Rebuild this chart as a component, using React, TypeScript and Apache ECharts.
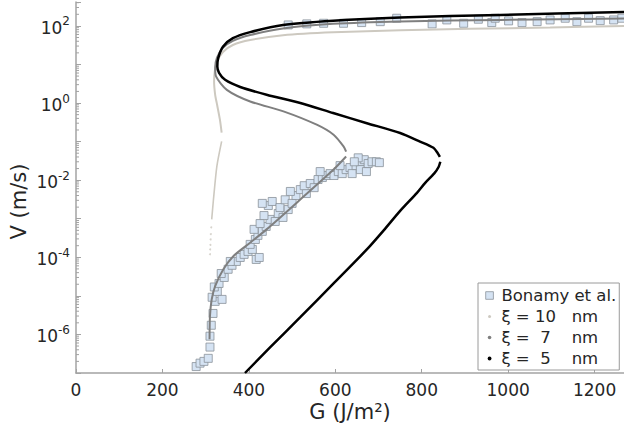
import React, { useEffect, useRef } from 'react';
import * as echarts from 'echarts';

// ---------- axis extents ----------
const X_MIN = 0;
const X_MAX = 1268;
const X_STEP = 200;
const Y_LOG_MIN = -7; // 1e-7 m/s
const Y_LOG_MAX = 2.62; // ~ 4e2 m/s

// ---------- model curves [G (J/m²), V (m/s)] ----------
const xi10Upper: [number, number][] = [
  [1268, 100], [1097, 91], [912, 84], [750, 77], [595, 68], [479, 57], [403, 43],
  [363, 32], [340, 21], [326, 11.7], [321, 6.5], [319.5, 3.6], [322, 1.64],
  [326.5, 0.9], [333, 0.37], [337, 0.17],
];
const xi10Lower: [number, number][] = [
  [337, 0.101], [326, 0.023], [318, 3.1e-3], [314, 9.6e-4],
];
const xi10Tail: [number, number][] = [
  [313, 6e-4], [312, 4e-4], [311.5, 2.9e-4], [311, 2.1e-4], [310.5, 1.6e-4], [310, 1.2e-4],
];

const xi7Upper: [number, number][] = [
  [1268, 156], [982, 143], [750, 131], [595, 113], [479, 86], [403, 58], [363, 41],
  [340, 27], [326, 14.9], [322, 8.2], [324, 4.9], [349, 2.2], [403, 1.1], [480, 0.61],
  [557, 0.275], [596, 0.151], [619, 0.075], [625, 0.055],
];
const xi7Lower: [number, number][] = [
  [625, 0.041], [596, 0.0188], [519, 3.15e-3], [441, 5.3e-4], [403, 2.39e-4],
  [364, 1.07e-4], [341, 4.9e-5], [322, 1.8e-5], [314, 8.1e-6], [310, 3.0e-6], [309, 7.5e-7],
];

const xi5Upper: [number, number][] = [
  [1268, 230], [982, 193], [750, 166], [595, 137], [479, 106], [403, 69], [363, 48],
  [340, 29], [329, 14.6], [327, 8.9], [331, 6.1], [345, 4.0], [380, 2.6], [441, 1.64],
  [519, 1.0], [595, 0.55], [673, 0.3], [750, 0.167], [796, 0.1], [827, 0.069],
  [837, 0.05], [842, 0.04],
];
const xi5Lower: [number, number][] = [
  [843, 0.03], [839, 0.022], [829, 0.015], [808, 0.0085], [789, 0.0047], [750, 1.6e-3],
  [712, 5.0e-4], [673, 1.6e-4], [596, 2.1e-5], [519, 2.8e-6], [449, 4.6e-7], [391, 1.0e-7],
];

// ---------- Bonamy et al. measurements [G, V] ----------
const bonamyFast: [number, number][] = [
  [491, 106], [534, 113], [573, 117], [619, 117], [661, 122], [704, 129], [742, 158],
  [824, 113], [858, 143], [897, 117], [931, 149], [962, 122], [970, 158], [1001, 135],
  [1032, 122], [1067, 129], [1097, 143], [1132, 158], [1159, 129], [1186, 158],
  [1213, 137], [1244, 143], [1263, 158],
];
const bonamySlow: [number, number][] = [
  [278, 1.47e-7], [287, 1.8e-7], [296, 2.0e-7], [306, 2.4e-7], [310, 4.7e-7], [310, 9.0e-7],
  [313, 1.73e-6], [317, 3.5e-6], [322, 7.2e-6], [315, 9.2e-6], [327, 1.3e-5], [320, 1.7e-5],
  [331, 2.1e-5], [338, 8.1e-6], [343, 3.0e-5], [336, 3.8e-5], [352, 4.9e-5], [361, 6.2e-5],
  [371, 7.8e-5], [357, 7.8e-5], [380, 9.9e-5], [389, 1.19e-4], [398, 1.42e-4], [408, 1.6e-4],
  [417, 8.8e-5], [424, 9.9e-5], [403, 2.16e-4], [415, 2.9e-4], [421, 3.7e-4], [431, 4.7e-4],
  [412, 5.3e-4], [440, 6.3e-4], [426, 7.5e-4], [449, 9.6e-4], [461, 8.5e-4], [435, 1.21e-3],
  [468, 1.37e-3], [479, 1.08e-3], [445, 2.2e-3], [431, 2.5e-3], [454, 2.8e-3], [472, 1.95e-3],
  [491, 1.73e-3], [484, 3.1e-3], [500, 2.5e-3], [509, 4.0e-3], [496, 5.1e-3], [519, 5.7e-3],
  [533, 4.5e-3], [528, 7.2e-3], [542, 8.2e-3], [551, 6.4e-3], [560, 0.0104], [570, 0.0117],
  [579, 0.0132], [588, 0.0148], [597, 0.0132], [607, 0.0167], [616, 0.0148], [625, 0.0188],
  [634, 0.0212], [639, 0.0148], [648, 0.0239], [658, 0.03], [667, 0.034], [658, 0.0188],
  [672, 0.0167], [676, 0.027], [685, 0.03], [695, 0.03], [702, 0.0285], [653, 0.038],
  [644, 0.03], [611, 0.0239], [565, 0.0167],
];

// ---------- labels ----------
const NAME_BONAMY = 'Bonamy et al.';
const NAME_XI10 = 'ξ = 10\u00A0\u00A0\u00A0nm';
const NAME_XI7 = 'ξ =\u00A0\u00A07\u00A0\u00A0\u00A0\u00A0nm';
const NAME_XI5 = 'ξ =\u00A0\u00A05\u00A0\u00A0\u00A0\u00A0nm';
const X_NAME = 'G (J/m²)';
const Y_NAME = 'V (m/s)';

// ---------- styles ----------
const FONT = 'DejaVu Sans';
const TEXT = '#262626';
const AXIS = '#a3a3a3';
const C_XI10 = '#cdc9c0';
const C_XI7 = '#7f7f7f';
const C_XI5 = '#000000';
const C_SQ = '#d5e3f3';
const C_SQ_EDGE = '#8a9299';

const toLog = (pts: [number, number][]) => pts.map(([g, v]) => [g, Math.log10(v)]);

const minorTicks: number[][] = [];
for (let n = Y_LOG_MIN; n <= 2; n++) {
  for (let k = 2; k <= 9; k++) {
    const v = n + Math.log10(k);
    if (v <= Y_LOG_MAX) minorTicks.push([0, v]);
  }
}

const box = 'M0,0M12,8';
const dot = (r: number) =>
  `path://${box}M${5.15 - r},4A${r},${r} 0 1 1 ${5.15 + r},4A${r},${r} 0 1 1 ${5.15 - r},4Z`;
const squareIcon = `path://${box}M1.3,0.2L9,0.2L9,7.8L1.3,7.8Z`;

export default function App() {
  const ref = useRef<HTMLDivElement>(null);
  useEffect(() => {
    if (!ref.current) return;
    const chart = echarts.init(ref.current, undefined, { renderer: 'svg' });
    const lineBase = {
      type: 'line' as const,
      showSymbol: false,
      symbol: 'none',
      smooth: 0.25,
      z: 3,
    };
    chart.setOption({
      animation: false,
      textStyle: { fontFamily: FONT },
      grid: { left: 76, right: 0, top: 2, bottom: 62, outerBoundsMode: 'none' },
      graphic: [
        {
          type: 'text',
          x: 18.5,
          y: 201.5,
          rotation: Math.PI / 2,
          silent: true,
          style: {
            text: Y_NAME,
            x: 0,
            y: 0,
            align: 'center',
            verticalAlign: 'middle',
            fontSize: 21,
            fontFamily: FONT,
            fill: TEXT,
          },
        },
      ],
      legend: {
        orient: 'vertical',
        left: 478,
        top: 283,
        padding: [4, 3, 3, 6],
        itemGap: 4,
        itemWidth: 12,
        itemHeight: 8,
        borderColor: '#9a9a9a',
        borderWidth: 1,
        backgroundColor: '#ffffff',
        selectedMode: false,
        textStyle: { fontSize: 16.5, color: TEXT, fontFamily: FONT },
        data: [
          { name: NAME_BONAMY, icon: squareIcon, itemStyle: { color: C_SQ, borderColor: C_SQ_EDGE, borderWidth: 0.8 } },
          { name: NAME_XI10, icon: dot(1.5), itemStyle: { color: C_XI10, borderWidth: 0 } },
          { name: NAME_XI7, icon: dot(1.8), itemStyle: { color: C_XI7, borderWidth: 0 } },
          { name: NAME_XI5, icon: dot(1.9), itemStyle: { color: C_XI5, borderWidth: 0 } },
        ],
      },
      xAxis: {
        type: 'value',
        min: X_MIN,
        max: X_MAX,
        interval: X_STEP,
        name: X_NAME,
        nameLocation: 'middle',
        nameGap: 28,
        nameMoveOverlap: false,
        nameTextStyle: { fontSize: 21, color: TEXT, fontFamily: FONT },
        axisLine: { show: true, onZero: false, lineStyle: { color: AXIS, width: 1.5 } },
        axisTick: { show: true, inside: true, length: 4, lineStyle: { color: AXIS, width: 1 } },
        splitLine: { show: false },
        axisLabel: {
          fontSize: 17,
          color: TEXT,
          margin: 8,
          fontFamily: FONT,
          showMaxLabel: false,
          formatter: (v: number) => (Math.abs(v % X_STEP) < 1e-6 ? String(v) : ''),
        },
      },
      yAxis: {
        type: 'value',
        min: Y_LOG_MIN,
        max: Y_LOG_MAX,
        interval: 1,
        axisLine: { show: true, onZero: false, lineStyle: { color: AXIS, width: 1.5 } },
        axisTick: { show: true, inside: true, length: 5, lineStyle: { color: AXIS, width: 1 } },
        splitLine: { show: false },
        axisLabel: {
          color: TEXT,
          margin: 6,
          fontFamily: FONT,
          formatter: (v: number) => {
            const r = Math.round(v);
            if (Math.abs(v - r) > 1e-6 || r % 2 !== 0) return '';
            return `{b|10}{s|${r}}`;
          },
          rich: {
            b: { fontSize: 17, color: TEXT, fontFamily: FONT, verticalAlign: 'bottom', lineHeight: 18 },
            s: { fontSize: 12, color: TEXT, fontFamily: FONT, verticalAlign: 'bottom', padding: [0, 0, 9, 0] },
          },
        },
      },
      series: [
        {
          name: NAME_BONAMY,
          type: 'scatter',
          symbol: 'rect',
          symbolSize: 8,
          z: 2,
          itemStyle: { color: C_SQ, borderColor: C_SQ_EDGE, borderWidth: 0.8, opacity: 1 },
          data: toLog([...bonamyFast, ...bonamySlow]),
        },
        { ...lineBase, name: NAME_XI10, itemStyle: { color: C_XI10 }, lineStyle: { color: C_XI10, width: 2 }, data: toLog(xi10Upper) },
        { ...lineBase, name: NAME_XI10, itemStyle: { color: C_XI10 }, lineStyle: { color: C_XI10, width: 1.6 }, data: toLog(xi10Lower) },
        {
          name: NAME_XI10,
          type: 'scatter',
          symbol: 'circle',
          symbolSize: 2,
          z: 3,
          itemStyle: { color: C_XI10 },
          data: toLog(xi10Tail),
        },
        { ...lineBase, name: NAME_XI7, itemStyle: { color: C_XI7 }, lineStyle: { color: C_XI7, width: 2 }, data: toLog(xi7Upper) },
        { ...lineBase, name: NAME_XI7, itemStyle: { color: C_XI7 }, lineStyle: { color: C_XI7, width: 2 }, data: toLog(xi7Lower) },
        { ...lineBase, name: NAME_XI5, itemStyle: { color: C_XI5 }, lineStyle: { color: C_XI5, width: 2.5 }, data: toLog(xi5Upper) },
        { ...lineBase, name: NAME_XI5, itemStyle: { color: C_XI5 }, lineStyle: { color: C_XI5, width: 2.5 }, data: toLog(xi5Lower) },
        {
          name: 'yMinorTicks',
          type: 'custom',
          silent: true,
          clip: false,
          z: 4,
          data: minorTicks,
          renderItem: (_p: any, api: any) => {
            const p = api.coord([api.value(0), api.value(1)]);
            return {
              type: 'line',
              shape: { x1: p[0], y1: p[1], x2: p[0] + 3, y2: p[1] },
              style: { stroke: AXIS, lineWidth: 1 },
            };
          },
        },
      ],
    });
    return () => chart.dispose();
  }, []);
  return (
    <div
      ref={ref}
      style={{ position: 'absolute', left: 0, top: 0, width: 624, height: 435, background: '#fff' }}
    />
  );
}
